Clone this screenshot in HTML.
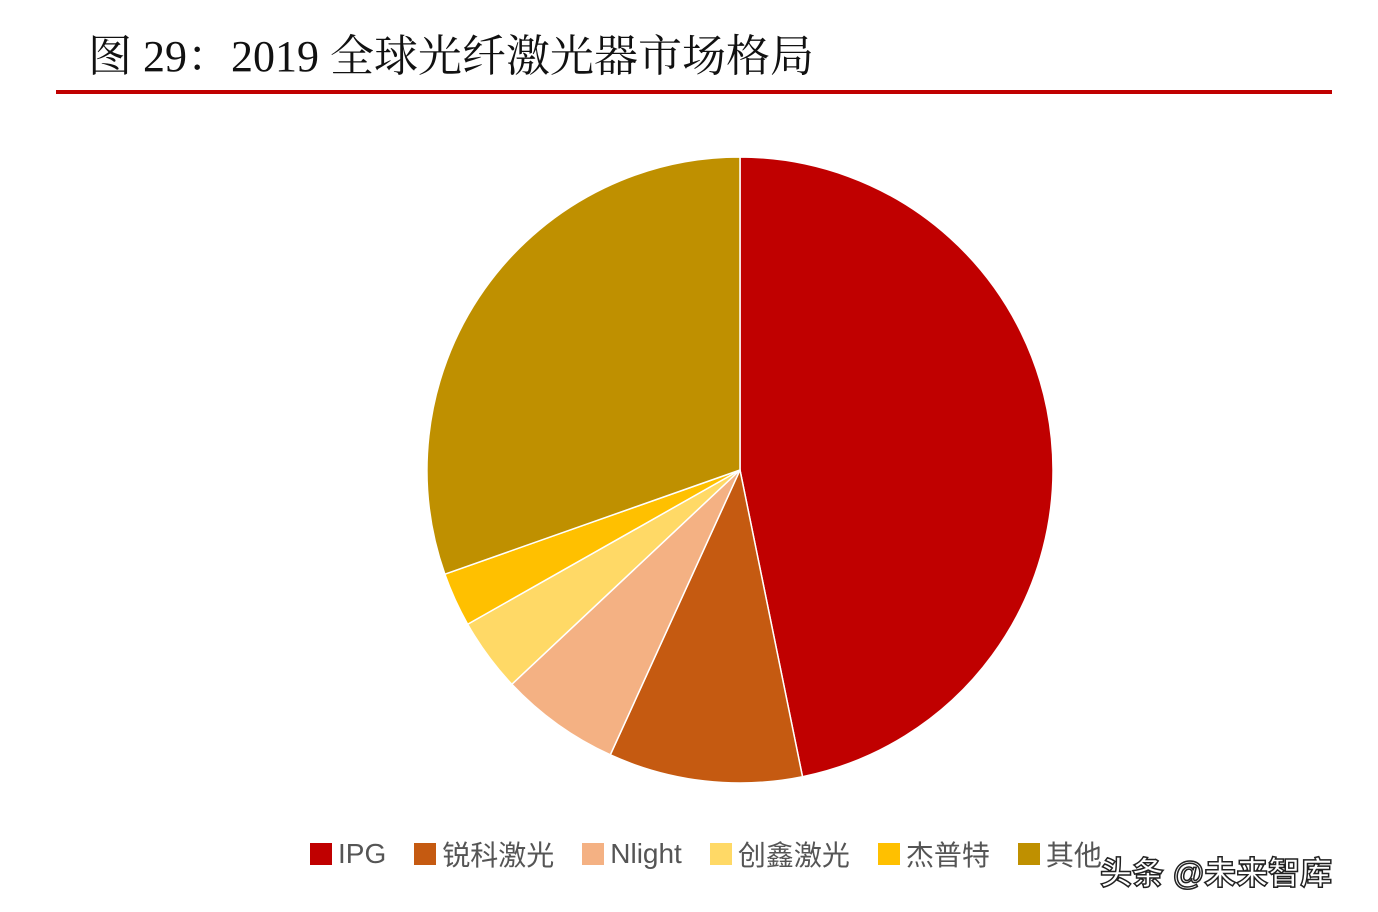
<!DOCTYPE html>
<html><head><meta charset="utf-8"><style>
body{margin:0;width:1378px;height:912px;background:#fff;overflow:hidden;font-family:"Liberation Sans","Noto Sans CJK SC",sans-serif;}
.title{position:absolute;left:88px;top:20px;font-family:"Liberation Serif","Noto Serif CJK SC",serif;font-size:44px;color:#111;white-space:nowrap;}
.rule{position:absolute;left:56px;top:90px;width:1276px;height:4px;background:#c00000;}
.legend{position:absolute;top:834px;left:310px;display:flex;font-size:28px;color:#555;white-space:nowrap;}
.li{display:flex;align-items:center;margin-right:28px;}
.sw{width:22px;height:22px;margin-right:6px;}
.wm{position:absolute;left:1100px;top:848px;font-size:32px;color:#fff;-webkit-text-stroke:1.5px #222;font-weight:bold;white-space:nowrap;}
</style></head><body>
<div class="title">图 29：2019 全球光纤激光器市场格局</div>
<div class="rule"></div>
<svg id="pie" width="1378" height="912" style="position:absolute;left:0;top:0"></svg>
<div class="legend" id="legend"></div>
<div class="wm">头条 @未来智库</div>
<script>
const categories=["IPG","锐科激光","Nlight","创鑫激光","杰普特","其他"];
const values=[46.8,10.0,6.2,3.8,2.8,30.4];
const colors=["#c00000","#c55a11","#f4b183","#ffd966","#ffc000","#bf9000"];
const cx=740,cy=470,r=313;
const svg=document.getElementById('pie');
const total=values.reduce((a,b)=>a+b,0);
let a0=0;
values.forEach((v,i)=>{
  const a1=a0+v/total*2*Math.PI;
  const x0=cx+r*Math.sin(a0),y0=cy-r*Math.cos(a0),x1=cx+r*Math.sin(a1),y1=cy-r*Math.cos(a1);
  const p=document.createElementNS('http://www.w3.org/2000/svg','path');
  p.setAttribute('d',`M${cx},${cy}L${x0},${y0}A${r},${r} 0 ${a1-a0>Math.PI?1:0} 1 ${x1},${y1}Z`);
  p.setAttribute('fill',colors[i]);
  p.setAttribute('stroke','#fff');p.setAttribute('stroke-width','1.5');
  
  
  svg.appendChild(p);
  a0=a1;
});
const lg=document.getElementById('legend');
categories.forEach((c,i)=>{
  const d=document.createElement('div');d.className='li';
  
  
  d.innerHTML=`<span class="sw" style="background:${colors[i]}"></span><span>${c}</span>`;
  lg.appendChild(d);
});
</script>
</body></html>
